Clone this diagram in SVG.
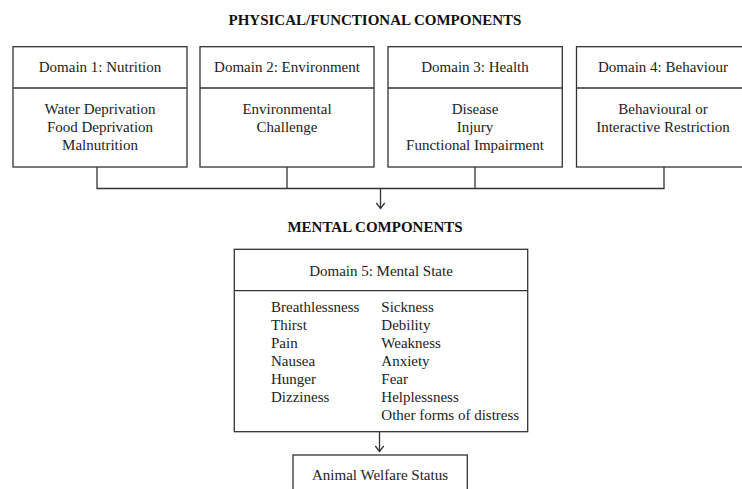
<svg xmlns="http://www.w3.org/2000/svg" width="742" height="489" viewBox="0 0 742 489">
<style>
.box{fill:#fff;stroke:#333;stroke-width:1.3}
.ln{fill:none;stroke:#333;stroke-width:1.3}
text{font-family:"Liberation Serif","Times New Roman",serif;font-size:15px;fill:#222}
.c{text-anchor:middle}
.h{font-weight:bold;font-size:15px;text-anchor:middle;fill:#111}
</style>
<defs>
<marker id="arr" markerWidth="10" markerHeight="10" refX="7" refY="5" orient="auto" markerUnits="userSpaceOnUse" viewBox="0 0 10 10">
<path d="M1.5,0.8 L7,5 L1.5,9.2" fill="none" stroke="#333" stroke-width="1.3"/>
</marker>
</defs>
<rect width="742" height="489" fill="#fff"/>
<text class="h" x="375" y="25">PHYSICAL/FUNCTIONAL COMPONENTS</text>
<text class="h" x="375" y="232">MENTAL COMPONENTS</text>

<g id="connectors">
<path class="ln" d="M97,167 V188.5 H664 V167 M287,167 V188.5 M475,167 V188.5"/>
<path class="ln" d="M380.5,188.5 V208.5" marker-end="url(#arr)"/>
<path class="ln" d="M379.5,431.7 V451.5" marker-end="url(#arr)"/>
</g>

<g id="domain1">
<rect class="box" x="13" y="46.7" width="174" height="120.3"/>
<line class="ln" x1="13" y1="88" x2="187" y2="88"/>
<text class="c" x="100" y="72">Domain 1: Nutrition</text>
<text class="c" x="100" y="113.5">Water Deprivation</text>
<text class="c" x="100" y="131.5">Food Deprivation</text>
<text class="c" x="100" y="149.5">Malnutrition</text>
</g>

<g id="domain2">
<rect class="box" x="200" y="46.7" width="174" height="120.3"/>
<line class="ln" x1="200" y1="88" x2="374" y2="88"/>
<text class="c" x="287" y="72">Domain 2: Environment</text>
<text class="c" x="287" y="113.5">Environmental</text>
<text class="c" x="287" y="131.5">Challenge</text>
</g>

<g id="domain3">
<rect class="box" x="388" y="46.7" width="174.3" height="120.3"/>
<line class="ln" x1="388" y1="88" x2="562.3" y2="88"/>
<text class="c" x="475" y="72">Domain 3: Health</text>
<text class="c" x="475" y="113.5">Disease</text>
<text class="c" x="475" y="131.5">Injury</text>
<text class="c" x="475" y="149.5">Functional Impairment</text>
</g>

<g id="domain4">
<rect class="box" x="576.5" y="46.7" width="175" height="120.3"/>
<line class="ln" x1="576.5" y1="88" x2="751.5" y2="88"/>
<text class="c" x="663" y="72">Domain 4: Behaviour</text>
<text class="c" x="663" y="113.5">Behavioural or</text>
<text class="c" x="663" y="131.5">Interactive Restriction</text>
</g>

<g id="domain5">
<rect class="box" x="234.3" y="249.3" width="293.4" height="182.4"/>
<line class="ln" x1="234.3" y1="290.7" x2="527.7" y2="290.7"/>
<text class="c" x="381" y="276">Domain 5: Mental State</text>
<text x="271" y="311.5">Breathlessness</text>
<text x="271" y="329.5">Thirst</text>
<text x="271" y="347.5">Pain</text>
<text x="271" y="365.5">Nausea</text>
<text x="271" y="383.5">Hunger</text>
<text x="271" y="401.5">Dizziness</text>
<text x="381.3" y="311.5">Sickness</text>
<text x="381.3" y="329.5">Debility</text>
<text x="381.3" y="347.5">Weakness</text>
<text x="381.3" y="365.5">Anxiety</text>
<text x="381.3" y="383.5">Fear</text>
<text x="381.3" y="401.5">Helplessness</text>
<text x="381.3" y="419.5">Other forms of distress</text>
</g>

<g id="welfare">
<rect class="box" x="293" y="455" width="174.3" height="50"/>
<text class="c" x="380" y="479.5">Animal Welfare Status</text>
</g>
</svg>
